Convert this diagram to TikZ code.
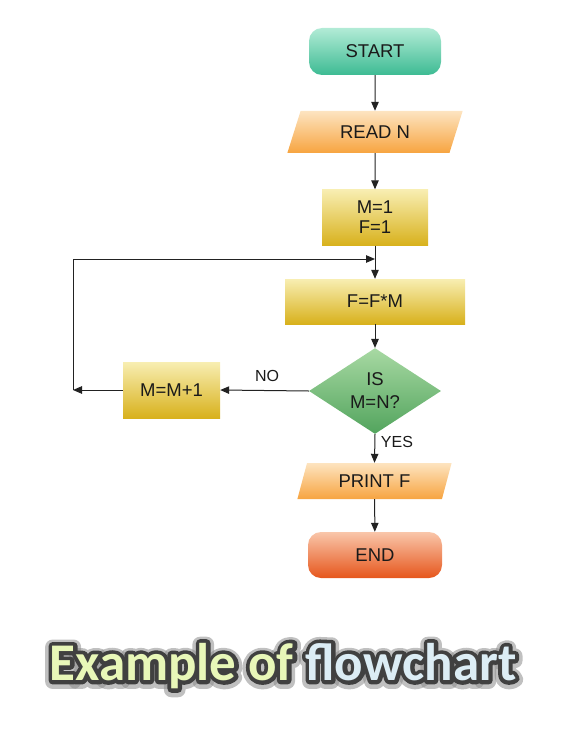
\documentclass[tikz,border=0pt]{standalone}
\usepackage{fontspec}
\setmainfont{Liberation Sans}
\newfontfamily\titlefont{Carlito}
\usetikzlibrary{shapes.geometric,arrows.meta}
\definecolor{txt}{HTML}{1A1A1A}
\definecolor{lnc}{HTML}{222222}
\definecolor{greenT}{HTML}{B2EBD6}
\definecolor{greenB}{HTML}{3DBB93}
\definecolor{orangeT}{HTML}{FDE4C0}
\definecolor{orangeB}{HTML}{F7A440}
\definecolor{yellowT}{HTML}{F8EEB2}
\definecolor{yellowB}{HTML}{D8B11C}
\definecolor{dgreenT}{HTML}{A8D9A3}
\definecolor{dgreenB}{HTML}{52A45D}
\definecolor{redT}{HTML}{F9C6AA}
\definecolor{redB}{HTML}{E6561C}
\definecolor{exa}{HTML}{E8F7B8}
\definecolor{flo}{HTML}{DCEDF5}
\definecolor{glow}{HTML}{3A3A3A}
\definecolor{glowsoft}{HTML}{8A8A8A}
\newcommand\strokeon[2]{\special{pdf:literal direct 2 Tr #1 w 1 j 1 J #2 RG}}
\newcommand\strokeoff{\special{pdf:literal direct 0 Tr}}
\tikzset{
  base/.style={inner sep=0pt, text=txt, font=\fontsize{18.5}{21}\selectfont, align=center},
  terminal/.style={base, rectangle, rounded corners=13pt},
  iobox/.style={base, trapezium, trapezium stretches=true},
  procbox/.style={base, rectangle},
  decbox/.style={base, diamond},
  arr/.style={draw=lnc, line width=1pt, -{Triangle[length=9pt,width=7.5pt]}},
  lbl/.style={text=txt, font=\fontsize{16}{19}\selectfont, inner sep=0pt},
  ttl/.style={inner sep=0pt, font=\titlefont\bfseries\fontsize{53}{60}\selectfont}
}
\begin{document}
\begin{tikzpicture}[x=1pt,y=-1pt]
\path[use as bounding box] (0,0) rectangle (572,746);
\node[terminal, top color=greenT, bottom color=greenB, minimum width=132pt, minimum height=47pt] (start) at (375,51.5) {START};
\node[iobox, top color=orangeT, bottom color=orangeB, minimum width=176pt, minimum height=42pt, trapezium left angle=64, trapezium right angle=116] (read) at (375,132) {READ N};
\node[procbox, top color=yellowT, bottom color=yellowB, minimum width=106pt, minimum height=56pt] (init) at (375,217.5) {M=1\\[-1pt]F=1};
\node[procbox, top color=yellowT, bottom color=yellowB, minimum width=180pt, minimum height=45pt] (mult) at (375,301.5) {F=F*M};
\node[decbox, top color=dgreenT, bottom color=dgreenB, minimum width=132pt, minimum height=76pt] (dec) at (375,391) {IS\\[2pt]M=N?};
\node[procbox, top color=yellowT, bottom color=yellowB, minimum width=97pt, minimum height=56pt] (inc) at (171.5,390) {M=M+1};
\node[iobox, top color=orangeT, bottom color=orangeB, minimum width=155pt, minimum height=36pt, trapezium left angle=68, trapezium right angle=112] (print) at (374.5,481) {PRINT F};
\node[terminal, top color=redT, bottom color=redB, minimum width=134pt, minimum height=46pt] (end) at (375,555) {END};

\coordinate (j) at (375,259);
\coordinate (cl) at (73,390);
\coordinate (ct) at (73,259);

\draw[arr] (start) -- (read);
\draw[arr] (read) -- (init);
\draw[arr] (init) -- (mult);
\draw[arr] (mult) -- (dec);
\draw[arr] (dec.west) -- (inc.east);
\draw[arr] (inc.west) -- (cl);
\draw[arr] (cl) -- (ct) -- (j);
\draw[arr] (dec.south) -- (print.north);
\draw[arr] (print) -- (end);
\node[lbl] (no) at (267,376) {NO};
\node[lbl] (yes) at (397,442) {YES};

\node[ttl, text=glowsoft, text opacity=0.55] (titlehalo) at (283,667) {\strokeon{15}{0.55 0.55 0.55}Example of flowchart\strokeoff};
\node[ttl, text=glow] (titleglow) at (283,666) {\strokeon{8}{0.25 0.25 0.25}Example of flowchart\strokeoff};
\node[ttl] (title) at (283,666) {{\color{exa}Example of} {\color{flo}flowchart}};
\end{tikzpicture}
\end{document}
